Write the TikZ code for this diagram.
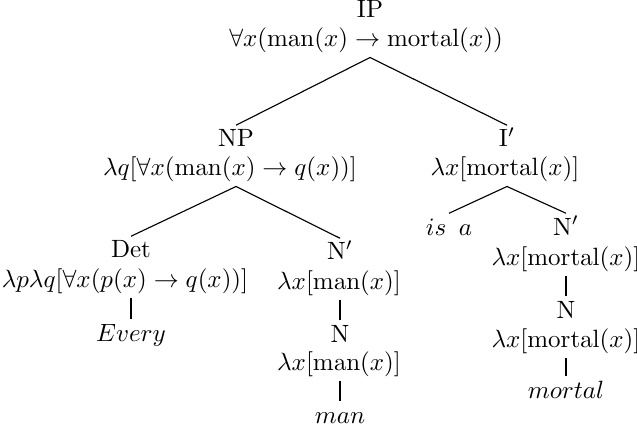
\documentclass[tikz,border=0pt]{standalone}
\usepackage{amsmath,amssymb}
\usepackage{tikz}

\begin{document}
\begin{tikzpicture}[x=0.4pt,y=-0.4pt,
  lbl/.style={anchor=base,inner sep=1.5pt,text height=7pt,text depth=2.5pt},
  branch/.style={line width=0.45pt},
  stem/.style={line width=1.1pt}]

\useasboundingbox (0,0) rectangle (637,431);

% root
\node[lbl] (ip)  at (370,18) {IP};
\node[lbl] (ipf) at (366,47) {$\forall x(\mathrm{man}(x)\rightarrow\mathrm{mortal}(x))$};

% subject
\node[lbl] (np)  at (236,147) {NP};
\node[lbl] (npf) at (230,176) {$\lambda q[\forall x(\mathrm{man}(x)\rightarrow q(x))]$};

\node[lbl] (det)   at (131,258) {Det};
\node[lbl] (detf)  at (125,287) {$\lambda p\lambda q[\forall x(p(x)\rightarrow q(x))]$};
\node[lbl] (every) at (131,341) {$Every$};

\node[lbl] (nbar)  at (340,260) {N$'$};
\node[lbl] (nbarf) at (339,289) {$\lambda x[\mathrm{man}(x)]$};
\node[lbl] (n)     at (340,342) {N};
\node[lbl] (nf)    at (339,370) {$\lambda x[\mathrm{man}(x)]$};
\node[lbl] (man)   at (340,423) {$man$};

% predicate
\node[lbl] (ibar)  at (507,147) {I$'$};
\node[lbl] (ibarf) at (505,176) {$\lambda x[\mathrm{mortal}(x)]$};

\node[lbl] (isa)   at (449,235) {$is$\enspace$a$};

\node[lbl] (pbar)  at (566,235) {N$'$};
\node[lbl] (pbarf) at (566,265) {$\lambda x[\mathrm{mortal}(x)]$};
\node[lbl] (pn)    at (566,318) {N};
\node[lbl] (pnf)   at (566,347) {$\lambda x[\mathrm{mortal}(x)]$};
\node[lbl] (mortal) at (566,398) {$mortal$};

% branches
\draw[branch] (ip |- ipf.south) -- (np.north);
\draw[branch] (ip |- ipf.south) -- (ibar.north);
\draw[branch] (np |- npf.south) -- (det.north);
\draw[branch] (np |- npf.south) -- (nbar.north);
\draw[branch] (ibar |- ibarf.south) -- (isa.north);
\draw[branch] (ibar |- ibarf.south) -- (pbar.north);

% unary stems
\foreach \a/\b in {det/every, nbar/n, n/man, pbar/pn, pn/mortal}{
  \draw[stem] (\a |- \a f.south) -- (\b.north);}

\end{tikzpicture}
\end{document}
